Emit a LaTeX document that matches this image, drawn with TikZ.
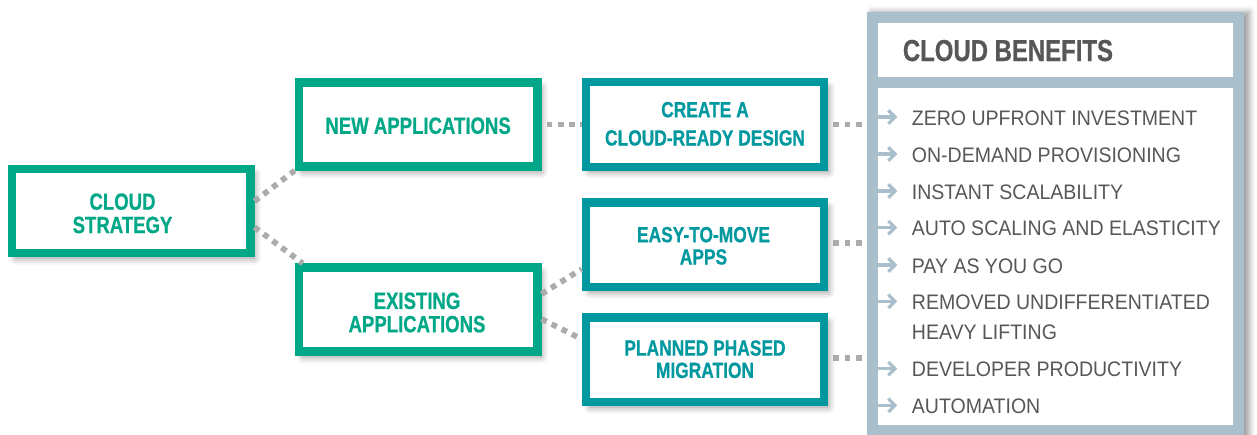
\documentclass[tikz,border=0pt]{standalone}
\usepackage{fontspec}
\usetikzlibrary{shadows.blur,calc}
\newfontfamily\condbold[FakeStretch=0.79,FakeBold=0.6]{Liberation Sans}
\newfontfamily\listfont[FakeStretch=0.93]{Liberation Sans}
\definecolor{cgreen}{HTML}{00A887}
\definecolor{cteal}{HTML}{00989F}
\definecolor{cpanel}{HTML}{A9C0CC}
\definecolor{ctext}{HTML}{555759}
\definecolor{cdot}{HTML}{ABABAB}
\begin{document}
\begin{tikzpicture}[x=1pt,y=-1pt,
  boxbase/.style={rectangle, line width=8.3pt, fill=white, minimum width=238.5pt,
    minimum height=84pt, inner sep=0pt,
    blur shadow={shadow xshift=4pt, shadow yshift=-5pt, shadow blur radius=7pt, shadow opacity=45}},
  gbox/.style={boxbase, draw=cgreen},
  tbox/.style={boxbase, draw=cteal, minimum height=84.4pt},
  gtext/.style={text=cgreen, align=center, inner sep=0pt,
    font=\fontsize{23.5}{23.3}\selectfont\condbold\bfseries},
  ttext/.style={text=cteal, align=center, inner sep=0pt,
    font=\fontsize{22}{22.3}\selectfont\condbold\bfseries},
  conn/.style={draw=cdot, line width=5.7pt, dash pattern=on 5.7pt off 5.6pt},
  item/.style={anchor=base west, inner sep=0pt, text=ctext, align=left,
    font=\fontsize{21}{30}\selectfont\listfont},
  bularrow/.style={draw=cpanel, line width=3.2pt}
]
\useasboundingbox (0,0) rectangle (1257,434);

% benefits panel
\node[rectangle, fill=cpanel, minimum width=377.3pt, minimum height=430pt, inner sep=0pt,
  anchor=north west, blur shadow={shadow xshift=5pt, shadow yshift=0pt, shadow blur radius=6pt, shadow opacity=40}]
  (panel) at (866.7,11.7) {};
\fill[white] (878.3,22.7) rectangle (1233,76.7);
\fill[white] (878.3,88.3) rectangle (1233,425);
\node[anchor=base west, inner sep=0pt, text=ctext,
  font=\fontsize{30.3}{32}\selectfont\condbold\bfseries] (benefits) at (902.7,61) {CLOUD BENEFITS};

\node[item] (i1) at (911.7,125) {ZERO UPFRONT INVESTMENT};
\node[item] (i2) at (911.7,162) {ON-DEMAND PROVISIONING};
\node[item] (i3) at (911.7,199) {INSTANT SCALABILITY};
\node[item] (i4) at (911.7,235.7) {AUTO SCALING AND ELASTICITY};
\node[item] (i5) at (911.7,273) {PAY AS YOU GO};
\node[item] (i6) at (911.7,339.3) {REMOVED UNDIFFERENTIATED\\HEAVY LIFTING};
\node[item] (i7) at (911.7,376.7) {DEVELOPER PRODUCTIVITY};
\node[item] (i8) at (911.7,413.3) {AUTOMATION};
\foreach \y in {125,162,199,235.7,273,309.3,376.7,413.3}{
  \draw[bularrow] (878,\y-8) -- (893,\y-8);
  \draw[bularrow, miter limit=10] (888.3,\y-14.7) -- (895,\y-8) -- (888.3,\y-1.3);
}

% boxes
\node[gbox] (strat) at (131.1,211.2) {};
\node[gtext] (strattext) at (122.5,213.3) {CLOUD\\STRATEGY};
\node[gbox] (newapp) at (418.1,124.5) {};
\node[gtext] (newtext) at (418.1,125.7) {NEW APPLICATIONS};
\node[gbox] (exist) at (418.1,309.5) {};
\node[gtext] (existtext) at (417,312.5) {EXISTING\\APPLICATIONS};
\node[tbox] (create) at (705,124.5) {};
\node[ttext, font=\fontsize{22}{28.3}\selectfont\condbold\bfseries] (createtext) at (705,123.8) {CREATE A\\CLOUD-READY DESIGN};
\node[tbox] (easy) at (705,244.7) {};
\node[ttext] (easytext) at (703.5,245.8) {EASY-TO-MOVE\\APPS};
\node[tbox] (planned) at (705,359.7) {};
\node[ttext] (plannedtext) at (705,359.2) {PLANNED PHASED\\MIGRATION};

% connectors
\draw[conn] ($(strat.east)+(0,-10)$) -- (newapp.south west);
\draw[conn] ($(strat.east)+(0,16)$) -- ($(exist.north west)+(8,0)$);
\draw[conn] ($(exist.east)+(0,-15.5)$) -- ($(easy.west)+(0,24.5)$);
\draw[conn] ($(exist.east)+(0,9.5)$) -- ($(planned.west)+(0,-20.7)$);
\draw[conn] ($(newapp.east)+(5,0)$) -- (create.west);
\draw[conn] ($(create.east)+(5,0)$) -- (create.east -| panel.west);
\draw[conn] ($(easy.east)+(5,-2)$) -- ($(easy.east -| panel.west)+(0,-2)$);
\draw[conn] ($(planned.east)+(5,-1.4)$) -- ($(planned.east -| panel.west)+(0,-1.4)$);
\end{tikzpicture}
\end{document}
